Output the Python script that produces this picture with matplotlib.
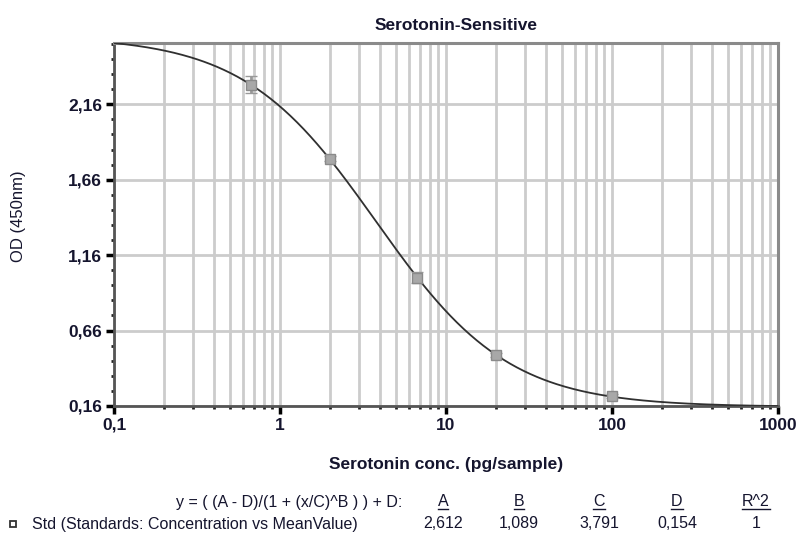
import numpy as np
import matplotlib
matplotlib.use("Agg")
import matplotlib.pyplot as plt
from matplotlib.ticker import FixedLocator, LogLocator, NullFormatter, FixedFormatter
from matplotlib.lines import Line2D

plt.rcParams['font.family'] = ['Liberation Sans', 'DejaVu Sans']

# ---- data ----
conc = [0.67, 2.0, 6.7, 20.0, 100.0]
od_mean = [2.29, 1.80, 1.01, 0.50, 0.225]
od_err = [0.055, 0.015, 0.035, 0.012, 0.012]

param_names = ['A', 'B', 'C', 'D', 'R^2']
param_values = [2.612, 1.089, 3.791, 0.154, 1]
param_labels = ['2,612', '1,089', '3,791', '0,154', '1']

x_ticks = [0.1, 1, 10, 100, 1000]
x_ticklabels = ['0,1', '1', '10', '100', '1000']
y_ticks = [0.16, 0.66, 1.16, 1.66, 2.16]
y_ticklabels = ['0,16', '0,66', '1,16', '1,66', '2,16']

A, B, C, D = param_values[:4]

txt_color = '#15152e'

fig = plt.figure(figsize=(7.98, 5.33), dpi=100)
ax = fig.add_axes([114/798, 1-406/533, (778-114)/798, (406-43)/533])

# fitted curve from displayed parameters
xs = np.logspace(-1, 3, 400)
ys = (A - D) / (1 + (xs / C) ** B) + D
ax.plot(xs, ys, color='#303030', lw=1.3, zorder=3)

ax.errorbar(conc, od_mean, yerr=od_err, fmt='s', ms=7, mfc='#a8a8a8', mec='#8a8a8a',
            mew=1.0, ecolor='#999999', elinewidth=2, capsize=4, capthick=2, zorder=4)

ax.set_xscale('log')
ax.set_xlim(0.1, 1000)
ax.set_ylim(0.16, 2.566)

ax.xaxis.set_major_locator(FixedLocator(x_ticks))
ax.xaxis.set_major_formatter(FixedFormatter(x_ticklabels))
ax.xaxis.set_minor_locator(LogLocator(base=10, subs=np.arange(2, 10), numticks=20))
ax.xaxis.set_minor_formatter(NullFormatter())
ax.yaxis.set_major_locator(FixedLocator(y_ticks))
ax.yaxis.set_major_formatter(FixedFormatter(y_ticklabels))
ax.yaxis.set_minor_locator(FixedLocator(np.arange(0.16, 2.57, 0.1)))

ax.grid(True, which='major', axis='y', color='#cccccc', lw=2)
ax.grid(True, which='both', axis='x', color='#cccccc', lw=2)
ax.set_axisbelow(True)

ax.tick_params(axis='both', which='major', direction='out', length=6, width=2.5,
               color='black', labelsize=12.5, labelcolor=txt_color, pad=2.5)
ax.tick_params(axis='both', which='minor', direction='out', length=2.5, width=2, color='#222222')
for lab in ax.get_xticklabels() + ax.get_yticklabels():
    lab.set_fontweight('bold')

for s in ['left', 'bottom']:
    ax.spines[s].set_color('#555555')
    ax.spines[s].set_linewidth(2)
for s in ['top', 'right']:
    ax.spines[s].set_color('#8a8a8a')
    ax.spines[s].set_linewidth(2.2)

fig.text(456/798, 1-25/533, 'Serotonin-Sensitive', ha='center', va='center',
         fontsize=12.5, fontweight='bold', color=txt_color)
fig.text(446/798, 1-465/533, 'Serotonin conc. (pg/sample)', ha='center', va='center',
         fontsize=12.5, fontweight='bold', color=txt_color)
fig.text(19/798, 1-216/533, 'OD (450nm)', ha='center', va='center', rotation=90,
         fontsize=12, color=txt_color)

# formula / parameter table
fs_tab = 11.5
fig.text(402/798, 1-502/533, 'y = ( (A - D)/(1 + (x/C)^B ) ) + D:', ha='right', va='center',
         fontsize=fs_tab, color=txt_color)
col_x = [443, 519, 599, 677, 756]
hdrs = []
for cx, name, val in zip(col_x, param_names, param_labels):
    t = fig.text(cx/798, 1-502/533, name, ha='center', va='center', fontsize=fs_tab, color=txt_color)
    hdrs.append(t)
    fig.text(cx/798, 1-524/533, val, ha='center', va='center', fontsize=fs_tab, color=txt_color)
fig.text(32/798, 1-524/533, 'Std (Standards: Concentration vs MeanValue)', ha='left', va='center',
         fontsize=fs_tab, color=txt_color)
fig.add_artist(Line2D([13/798], [1-524/533], marker='s', ms=4.5, mfc='white', mec='#333333',
                      mew=1.3, transform=fig.transFigure))

fig.canvas.draw()
r = fig.canvas.get_renderer()
for t in hdrs:
    bb = t.get_window_extent(r)
    y = bb.y0 + 1
    fig.add_artist(Line2D([bb.x0/798, bb.x1/798], [y/533, y/533], color=txt_color, lw=1,
                          transform=fig.transFigure))

fig.savefig('out.png', dpi=100)
